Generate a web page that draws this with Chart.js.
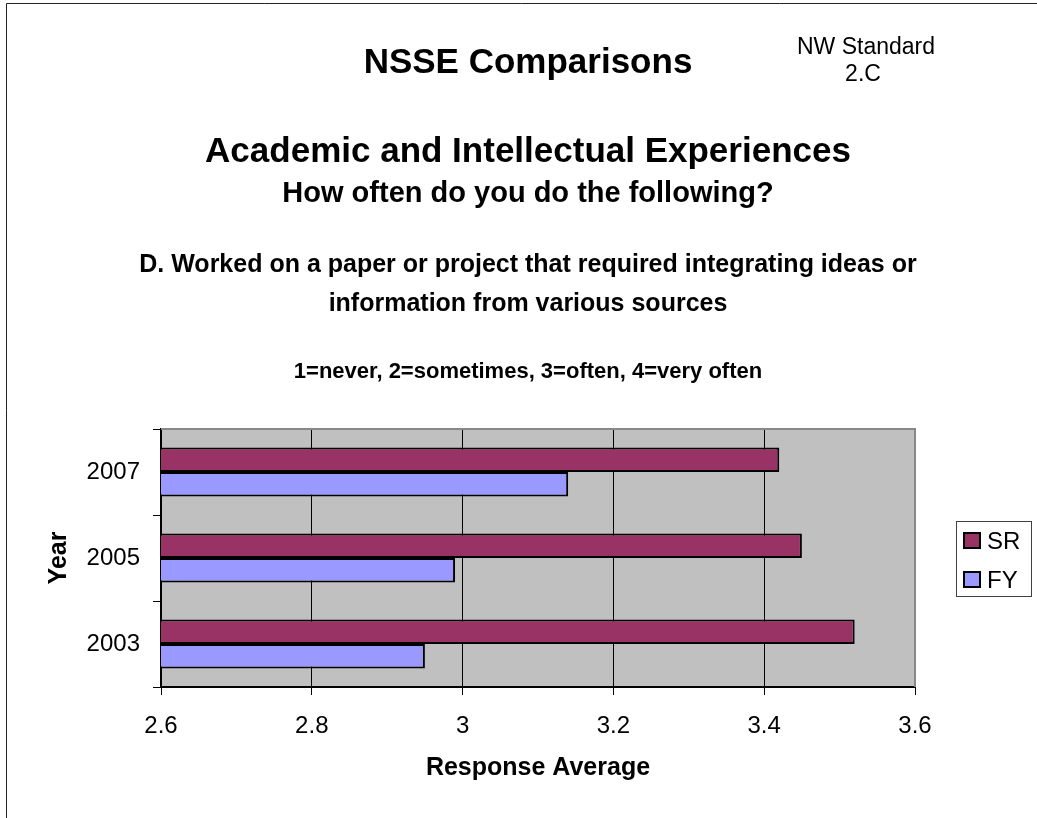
<!DOCTYPE html>
<html>
<head>
<meta charset="utf-8">
<title>NSSE Comparisons</title>
<script src="https://cdn.jsdelivr.net/npm/chart.js@4"></script>
<style>
  body { margin: 0; background: #fff; }
  #wrap { position: relative; width: 1037px; height: 818px; }
</style>
</head>
<body>
<div id="wrap">
  <canvas id="nsseChart" width="1037" height="818"></canvas>
</div>
<script>
// Chart data
const years = ['2007', '2005', '2003'];
const srValues = [3.42, 3.45, 3.52];
const fyValues = [3.14, 2.99, 2.95];
const xTicks = [2.6, 2.8, 3.0, 3.2, 3.4, 3.6];
const seriesNames = ['SR', 'FY'];
const seriesColors = ['#993366', '#9999FF'];

const FONT = '"Liberation Sans", Arial, sans-serif';

// Titles, axis titles, frame and legend are drawn here
const decorPlugin = {
    id: 'decor',
    beforeDraw(chart) {
        const { ctx, chartArea } = chart;
        ctx.save();
        ctx.fillStyle = '#C0C0C0';
        ctx.fillRect(chartArea.left, chartArea.top, chartArea.right - chartArea.left, chartArea.bottom - chartArea.top);
        ctx.restore();
    },
    afterDraw(chart) {
        const { ctx, chartArea } = chart;
        ctx.save();

        // outer frame (top and left only)
        ctx.strokeStyle = '#222';
        ctx.lineWidth = 1;
        ctx.beginPath();
        ctx.moveTo(6.5, 818);
        ctx.lineTo(6.5, 3.5);
        ctx.lineTo(1037, 3.5);
        ctx.stroke();

        // plot area border top/right
        ctx.strokeStyle = '#888';
        ctx.lineWidth = 2;
        ctx.beginPath();
        ctx.moveTo(chartArea.left, chartArea.top);
        ctx.lineTo(chartArea.right, chartArea.top);
        ctx.lineTo(chartArea.right, chartArea.bottom);
        ctx.stroke();

        ctx.fillStyle = '#000';
        ctx.textAlign = 'center';
        ctx.textBaseline = 'alphabetic';
        const cx = 528;
        ctx.font = 'bold 35px ' + FONT;
        ctx.fillText('NSSE Comparisons', cx, 73);
        ctx.fillText('Academic and Intellectual Experiences', cx, 162);
        ctx.font = 'bold 29px ' + FONT;
        ctx.fillText('How often do you do the following?', cx, 202);
        ctx.font = 'bold 25px ' + FONT;
        ctx.fillText('D. Worked on a paper or project that required integrating ideas or', cx, 272);
        ctx.fillText('information from various sources', cx, 311);
        ctx.font = 'bold 22px ' + FONT;
        ctx.fillText('1=never, 2=sometimes, 3=often, 4=very often', cx, 378);

        ctx.font = '23px ' + FONT;
        ctx.fillText('NW Standard', 866, 54);
        ctx.fillText('2.C', 863, 81);

        // axis titles
        ctx.font = 'bold 25px ' + FONT;
        ctx.fillText('Response Average', (chartArea.left + chartArea.right) / 2, 775);
        ctx.save();
        ctx.translate(66, (chartArea.top + chartArea.bottom) / 2);
        ctx.rotate(-Math.PI / 2);
        ctx.fillText('Year', 0, 0);
        ctx.restore();

        // legend
        ctx.strokeStyle = '#404040';
        ctx.lineWidth = 1;
        ctx.strokeRect(956.5, 521.5, 75, 75);
        ctx.font = '24px ' + FONT;
        ctx.textAlign = 'left';
        seriesNames.forEach((name, i) => {
            const y = 532 + i * 39;
            ctx.fillStyle = seriesColors[i];
            ctx.fillRect(964, y + 1, 16, 15);
            ctx.strokeStyle = '#000';
            ctx.lineWidth = 2;
            ctx.strokeRect(964, y + 1, 16, 15);
            ctx.fillStyle = '#000';
            ctx.fillText(name, 987, y + 17);
        });

        ctx.restore();
    }
};

const ctx = document.getElementById('nsseChart').getContext('2d');
const nsseChart = new Chart(ctx, {
    type: 'bar',
    data: {
        labels: years,
        datasets: [{
            label: seriesNames[0],
            data: srValues,
            backgroundColor: seriesColors[0],
            borderColor: '#000',
            borderWidth: 2,
            borderSkipped: false
        }, {
            label: seriesNames[1],
            data: fyValues,
            backgroundColor: seriesColors[1],
            borderColor: '#000',
            borderWidth: 2,
            borderSkipped: false
        }]
    },
    options: {
        indexAxis: 'y',
        responsive: false,
        animation: false,
        categoryPercentage: 0.57,
        barPercentage: 1.0,
        layout: {
            padding: { left: 0, top: 429, right: 122, bottom: 0 }
        },
        plugins: {
            legend: { display: false },
            tooltip: { enabled: false }
        },
        scales: {
            x: {
                type: 'linear',
                min: 2.6,
                max: 3.6,
                afterBuildTicks: (scale) => {
                    scale.ticks = xTicks.map(v => ({ value: v }));
                },
                afterFit: (scale) => { scale.height = 131; },
                grid: {
                    color: '#000',
                    lineWidth: 1,
                    drawTicks: true,
                    tickLength: 8,
                    tickColor: '#000'
                },
                border: { display: true, color: '#000', width: 2 },
                ticks: {
                    color: '#000',
                    padding: 17,
                    maxRotation: 0,
                    font: { family: FONT, size: 24 },
                    callback: (value) => String(Number(value.toFixed(1)))
                }
            },
            y: {
                afterFit: (scale) => { scale.width = 161; },
                grid: {
                    offset: true,
                    drawOnChartArea: false,
                    drawTicks: true,
                    tickLength: 8,
                    tickColor: '#000'
                },
                border: { display: true, color: '#000', width: 2 },
                ticks: {
                    color: '#000',
                    padding: 13,
                    font: { family: FONT, size: 24 }
                }
            }
        }
    },
    plugins: [decorPlugin]
});
</script>
</body>
</html>
